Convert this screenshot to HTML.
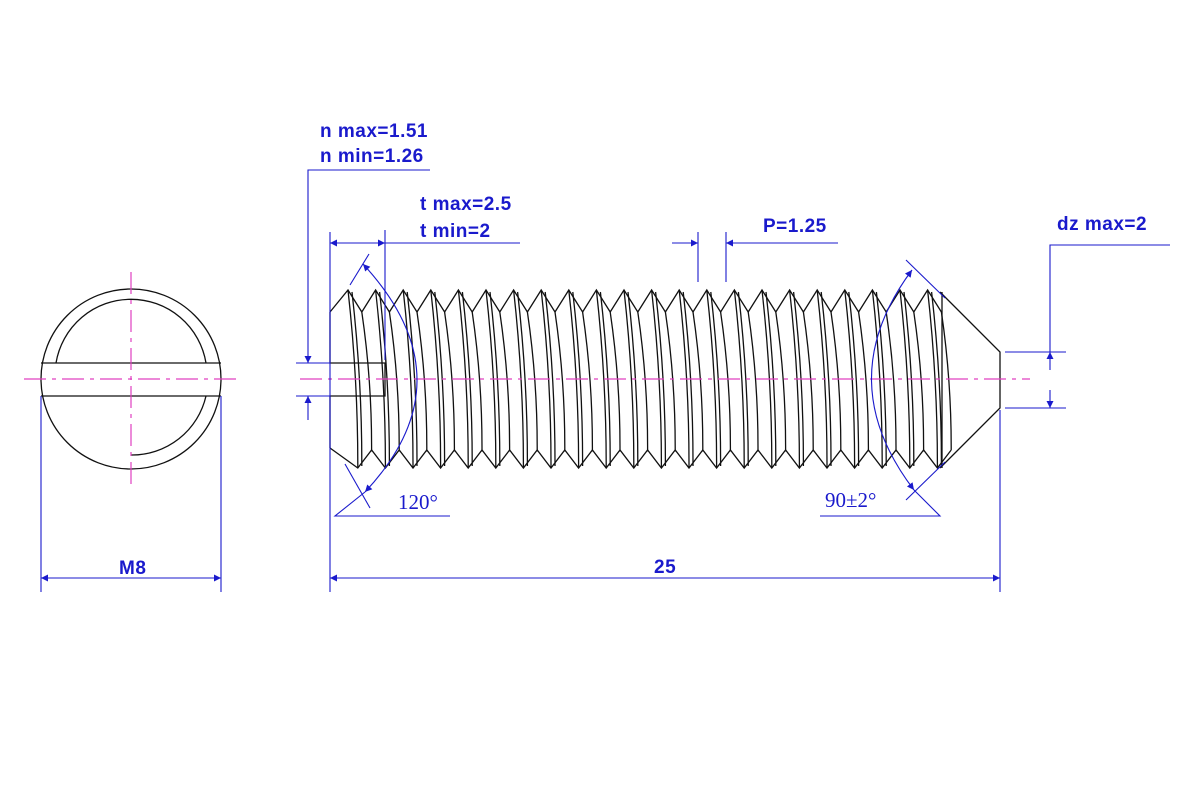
<!DOCTYPE html>
<html><head><meta charset="utf-8"><style>
body{margin:0;background:#fff}
svg{display:block}
text{font-family:"Liberation Sans",sans-serif;font-weight:bold;font-size:19px;letter-spacing:0.5px;fill:#1a1acc}
.s{font-family:"Liberation Serif",serif;font-weight:normal;font-size:21px;letter-spacing:0}
</style></head><body>
<svg id="d" width="1200" height="800" viewBox="0 0 1200 800" xmlns="http://www.w3.org/2000/svg">
<defs>
<marker id="a" viewBox="0 0 10 10" refX="10" refY="5" markerWidth="14" markerHeight="7" orient="auto-start-reverse" markerUnits="userSpaceOnUse"><path d="M0,0 L10,5 L0,10 z" fill="#1a1acc"/></marker>
</defs>
<g stroke="#111" stroke-width="1.3" fill="none">
<circle cx="131" cy="379" r="90"/>
<path d="M56,363 A76,76 0 0 1 206,363"/>
<path d="M206,396 A76,76 0 0 1 131,455"/>
<line x1="41" y1="363" x2="221" y2="363"/>
<line x1="41" y1="396" x2="221" y2="396"/>
<path d="M330,312 L330,363 L385,363 L385,396 L330,396 L330,448"/>
<path d="M940,292 L1000,352 L1000,408 L940,468"/>
<line x1="942" y1="292" x2="942" y2="468"/>
<g id="thr"></g>
</g>
<g stroke="#e040c0" stroke-width="1.2" stroke-dasharray="22,6,4,6">
<line x1="24" y1="379" x2="238" y2="379"/>
<line x1="131" y1="272" x2="131" y2="488"/>
<line x1="300" y1="379" x2="1030" y2="379"/>
</g>
<g stroke="#1a1acc" stroke-width="1.1" fill="none">
<line x1="41" y1="396" x2="41" y2="592"/><line x1="221" y1="396" x2="221" y2="592"/>
<line x1="41" y1="578" x2="221" y2="578" marker-start="url(#a)" marker-end="url(#a)"/>
<line x1="330" y1="232" x2="330" y2="592"/><line x1="1000" y1="410" x2="1000" y2="592"/>
<line x1="330" y1="578" x2="1000" y2="578" marker-start="url(#a)" marker-end="url(#a)"/>
<line x1="385" y1="230" x2="385" y2="360"/>
<line x1="330" y1="243" x2="385" y2="243" marker-start="url(#a)" marker-end="url(#a)"/>
<line x1="385" y1="243" x2="520" y2="243"/>
<polyline points="430,170 308,170 308,363" marker-end="url(#a)"/>
<line x1="308" y1="420" x2="308" y2="396" marker-end="url(#a)"/>
<line x1="296" y1="363" x2="330" y2="363"/><line x1="296" y1="396" x2="330" y2="396"/>
<line x1="698" y1="232" x2="698" y2="282"/><line x1="726" y1="232" x2="726" y2="282"/>
<line x1="672" y1="243" x2="698" y2="243" marker-end="url(#a)"/>
<line x1="752" y1="243" x2="726" y2="243" marker-end="url(#a)"/>
<line x1="726" y1="243" x2="838" y2="243"/>
<line x1="1005" y1="352" x2="1066" y2="352"/><line x1="1005" y1="408" x2="1066" y2="408"/>
<polyline points="1170,245 1050,245 1050,352"/>
<line x1="1050" y1="370" x2="1050" y2="352" marker-end="url(#a)"/>
<line x1="1050" y1="390" x2="1050" y2="408" marker-end="url(#a)"/>
<line x1="369" y1="254" x2="350" y2="285"/>
<line x1="345" y1="464" x2="370" y2="508"/>
<path d="M363,264 Q470,380 365,492" marker-start="url(#a)" marker-end="url(#a)"/>
<polyline points="450,516 335,516 365,492"/>
<line x1="906" y1="260" x2="945" y2="298"/>
<line x1="945" y1="462" x2="906" y2="500"/>
<path d="M912,270 Q830,380 914,490" marker-start="url(#a)" marker-end="url(#a)"/>
<polyline points="820,516 940,516 914,490"/>
</g>
<text x="320" y="137">n max=1.51</text>
<text x="320" y="162">n min=1.26</text>
<text x="420" y="210">t max=2.5</text>
<text x="420" y="237">t min=2</text>
<text x="763" y="232">P=1.25</text>
<text x="1057" y="230">dz max=2</text>
<text x="119" y="574">M8</text>
<text x="654" y="573">25</text>
<text class="s" x="398" y="509">120°</text>
<text class="s" x="825" y="507">90±2°</text>
</svg>
<script>
var g=document.getElementById('thr'),ns='http://www.w3.org/2000/svg',p=27.6;
function L(d){var e=document.createElementNS(ns,'path');e.setAttribute('d',d);g.appendChild(e);}
var tp='M330,312',bt='M330,448';
for(var i=0;i<22;i++){var x=348+i*p;
tp+=' L'+x+',290 L'+Math.min(x+p/2,942)+',312';
bt+=' L'+(x+p/2-4)+',468 L'+(x+p-4)+',450';
L('M'+x+',290 Q'+(x+10)+',380 '+(x+p/2-4)+',468');
L('M'+(x+4)+',292 Q'+(x+14)+',380 '+(x+p/2)+',466');
L('M'+(x+p/2)+',312 Q'+(x+p/2+10)+',380 '+(x+p-4)+',450');
}
L(tp);L(bt);
</script>
</body></html>
